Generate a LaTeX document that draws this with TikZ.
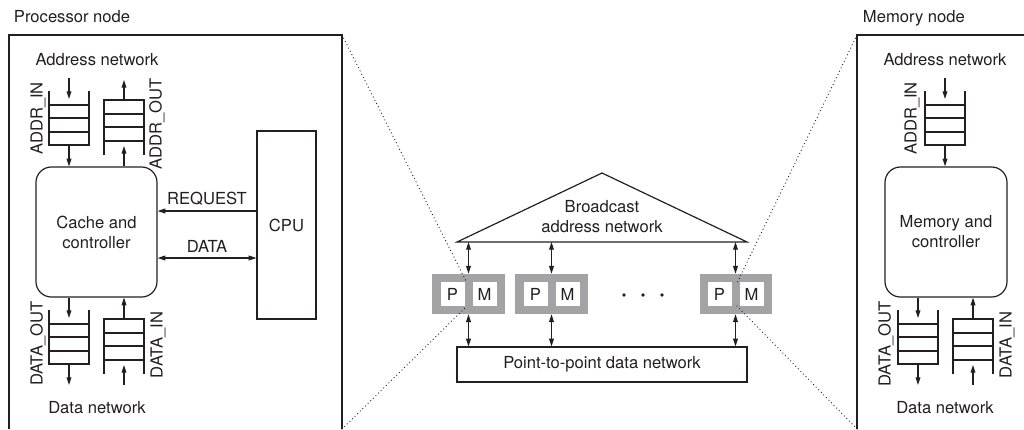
\documentclass[tikz,border=0pt]{standalone}
\usepackage{fontspec}
\setmainfont{TeX Gyre Heros}
\usepackage{tikz}
\usetikzlibrary{arrows.meta, positioning, calc}

\definecolor{ink}{RGB}{35,31,32}
\definecolor{pmgray}{RGB}{163,163,166}

\tikzset{
  fifoin/.pic={
    \draw[queue] (-20,0) -- (-20,54) -- (20,54) -- (20,0);
    \foreach \y in {14,27,41} \draw[queue] (-20,\y) -- (20,\y);
    \coordinate (-src) at (0,-13);
    \coordinate (-in) at (0,8);
    \coordinate (-out) at (0,54);
    \coordinate (-sink) at (0,75);
  },
  fifoout/.pic={
    \draw[queue] (-20,55) -- (-20,0) -- (20,0) -- (20,55);
    \foreach \y in {14,27,41} \draw[queue] (-20,\y) -- (20,\y);
    \coordinate (-out) at (0,0);
    \coordinate (-sink) at (0,-20);
    \coordinate (-in) at (0,46);
    \coordinate (-src) at (0,66);
  }
}

\begin{document}
\begin{tikzpicture}[x=0.025cm, y=-0.025cm,
    font=\fontsize{11.8}{14.2}\selectfont, text=ink,
    frame/.style={draw=ink, line width=0.85pt},
    queue/.style={draw=ink, line width=0.85pt},
    ctrl/.style={draw=ink, line width=0.85pt, rounded corners=11pt,
      minimum width=3.025cm, minimum height=3.25cm, align=center, inner sep=0pt},
    arr/.style={draw=ink, line width=0.75pt, -{Triangle[length=5.5pt,width=3.4pt]}},
    dbl/.style={draw=ink, line width=0.75pt,
      {Triangle[length=5.5pt,width=3.4pt]}-{Triangle[length=5.5pt,width=3.4pt]}},
    zoomline/.style={draw=ink, line width=0.9pt, line cap=round,
      dash pattern=on 0pt off 2.6pt},
    qlabel/.style={rotate=90, inner sep=0pt},
    pmframe/.style={fill=pmgray, minimum width=1.8cm, minimum height=1cm, inner sep=0pt},
    pmcell/.style={fill=white, minimum size=0.6cm, inner sep=0pt}]

  \useasboundingbox (0,0) rectangle (1024,429);

  % --- Processor node ---
  \node[anchor=base west] (ptitle) at (9,22) {Processor node};
  \draw[frame] (9,429) -- (9,35) -- (342,35) -- (342,429);
  \coordinate (pn-top) at (342,35);
  \coordinate (pn-bot) at (342,429);

  \node[anchor=base] (paddr) at (97,65) {Address network};
  \node[anchor=base] (pdata) at (97,413) {Data network};

  \node[ctrl] (cache) at (96.5,232) {Cache and\\controller};
  \node[frame, minimum width=1.475cm, minimum height=4.7cm, inner sep=0pt]
    (cpu) at (286.5,225) {CPU};

  \draw[arr] ($(cpu.west)+(0,-14)$) -- ($(cache.east)+(0,-21)$)
    node[midway, above] {REQUEST};
  \draw[dbl] ($(cache.east)+(0,26)$) -- ($(cpu.west)+(0,33)$)
    node[midway, above] {DATA};

  % --- Queues of the processor node ---
  \pic (pai) at (69,91) {fifoin};
  \pic (pao) at (124,100) {fifoout};
  \pic (pdo) at (69,310) {fifoin};
  \pic (pdi) at (124,319) {fifoout};

  \draw[arr] (pai-src) -- (pai-in);
  \draw[arr] (pai-out) -- (pai-out |- cache.north);
  \draw[arr] (pao-out) -- (pao-sink);
  \draw[arr] (pao-in |- cache.north) -- (pao-in);
  \draw[arr] (pdo-in |- cache.south) -- (pdo-in);
  \draw[arr] (pdo-out) -- (pdo-sink);
  \draw[arr] (pdi-src) -- (pdi-in);
  \draw[arr] (pdi-out) -- (pdi-out |- cache.south);

  \node[qlabel] (l-pai) at (38,118.5) {ADDR\_IN};
  \node[qlabel] (l-pao) at (157,124) {ADDR\_OUT};
  \node[qlabel] (l-pdo) at (38,343.5) {DATA\_OUT};
  \node[qlabel] (l-pdi) at (158,345) {DATA\_IN};

  % --- Memory node ---
  \node[anchor=base west] (mtitle) at (858,22) {Memory node};
  \draw[frame] (857,429) -- (857,35) -- (1024,35);
  \coordinate (mn-top) at (857,35);
  \coordinate (mn-bot) at (857,429);

  \node[anchor=base] (maddr) at (945,65) {Address network};
  \node[anchor=base] (mdata) at (945,413) {Data network};

  \node[ctrl, minimum width=3.05cm] (mem) at (946,232) {Memory and\\controller};

  \pic (mai) at (945,91) {fifoin};
  \pic (mdo) at (918,310) {fifoin};
  \pic (mdi) at (973,319) {fifoout};

  \draw[arr] (mai-src) -- (mai-in);
  \draw[arr] (mai-out) -- (mai-out |- mem.north);
  \draw[arr] (mdo-in |- mem.south) -- (mdo-in);
  \draw[arr] (mdo-out) -- (mdo-sink);
  \draw[arr] (mdi-src) -- (mdi-in);
  \draw[arr] (mdi-out) -- (mdi-out |- mem.south);

  \node[qlabel] (l-mai) at (912,118.5) {ADDR\_IN};
  \node[qlabel] (l-mdo) at (886,344) {DATA\_OUT};
  \node[qlabel] (l-mdi) at (1007,345) {DATA\_IN};

  % --- Broadcast and point-to-point networks ---
  \coordinate (bl) at (457,242);
  \coordinate (bt) at (602,173);
  \coordinate (br) at (747,242);
  \draw[frame] (bl) -- (bt) -- (br) -- cycle;
  \node[align=center] (bcast) at (602,217) {Broadcast\\address network};

  \node[frame, minimum width=7.25cm, minimum height=0.875cm, inner sep=0pt]
    (ptp) at (602,364.5) {Point-to-point data network};

  % --- P/M pairs ---
  \foreach \n/\x in {1/468.5, 2/551.5, 3/735.5}{
    \node[pmframe] (pm\n) at (\x,294) {};
    \node[pmcell] (p\n) at ($(pm\n)+(-16,0)$) {P};
    \node[pmcell] (m\n) at ($(pm\n)+(16,0)$) {M};
    \draw[dbl] (pm\n.north |- bl) -- (pm\n.north);
    \draw[dbl] (pm\n.south) -- (pm\n.south |- ptp.north);
  }

  \foreach \x in {624,643,662}{
    \fill[ink] (\x,295) circle (1.3pt);
  }

  % --- Zoom lines ---
  \coordinate (z1) at (467,283);
  \coordinate (z2) at (467,306);
  \coordinate (z3) at (737,283);
  \coordinate (z4) at (737,306);
  \draw[zoomline] (pn-top) -- (z1);
  \draw[zoomline] (pn-bot) -- (z2);
  \draw[zoomline] (mn-top) -- (z3);
  \draw[zoomline] (mn-bot) -- (z4);

\end{tikzpicture}
\end{document}
